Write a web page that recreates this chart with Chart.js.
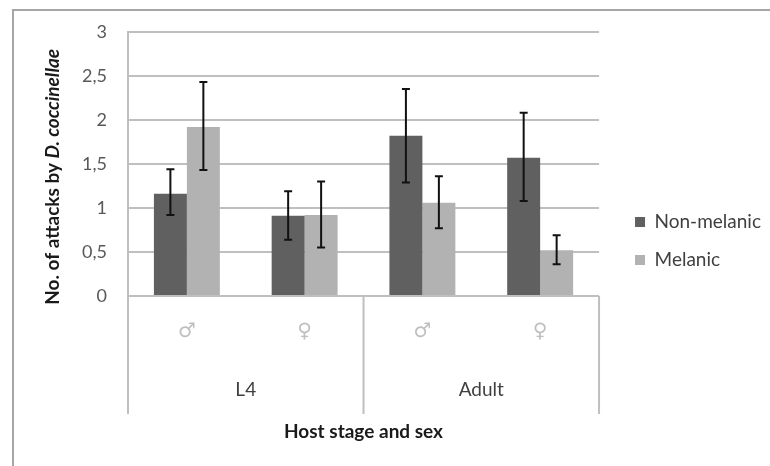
<!DOCTYPE html>
<html>
<head>
<meta charset="utf-8">
<script src="https://cdn.jsdelivr.net/npm/chart.js@4.4.0/dist/chart.umd.min.js"></script>
<style>
  html, body { margin: 0; padding: 0; background: #fff; }
  #wrap { width: 770px; height: 466px; }
</style>
</head>
<body>
<div id="wrap"><canvas id="myChart" width="770" height="466"></canvas></div>
<script>
// Catégories : sexe (niveau 1) et stade (niveau 2)
var sexLabels = ['♂', '♀', '♂', '♀'];
var stageLabels = ['L4', 'Adult'];

// Moyennes + barres d'erreur (bas / haut)
var nonMelanic = [1.16, 0.91, 1.82, 1.57];
var nonMelanicLow = [0.92, 0.64, 1.29, 1.08];
var nonMelanicHigh = [1.44, 1.19, 2.35, 2.08];

var melanic = [1.92, 0.92, 1.06, 0.52];
var melanicLow = [1.43, 0.55, 0.77, 0.36];
var melanicHigh = [2.43, 1.30, 1.36, 0.69];

var yMin = 0, yMax = 3, yStep = 0.5;

var FONT = 'Lato, "Open Sans", sans-serif';
var LINE = '#bfbfbf';

// cadre extérieur, titre Y en deux styles, séparateurs de l'axe X
var framePlugin = {
  id: 'frame',
  beforeDraw: function (chart) {
    var c = chart.ctx;
    c.save();
    c.fillStyle = '#fff';
    c.fillRect(0, 0, chart.width, chart.height);
    c.strokeStyle = '#a6a6a6';
    c.lineWidth = 2;
    c.beginPath();
    c.moveTo(13, chart.height);
    c.lineTo(13, 10);
    c.lineTo(chart.width, 10);
    c.stroke();
    c.restore();
  },
  afterDraw: function (chart) {
    var c = chart.ctx;
    var a = chart.chartArea;
    var p1 = 'No. of attacks by ';
    var p2 = 'D. coccinellae';
    var f1 = 'bold 19px ' + FONT;
    var f2 = 'italic bold 19px ' + FONT;
    c.save();
    c.font = f1; var w1 = c.measureText(p1).width;
    c.font = f2; var w2 = c.measureText(p2).width;
    c.translate(53, (a.top + a.bottom) / 2 + 13);
    c.rotate(-Math.PI / 2);
    c.fillStyle = '#1a1a1a';
    c.textBaseline = 'middle';
    c.textAlign = 'left';
    var x0 = -(w1 + w2) / 2;
    c.font = f1; c.fillText(p1, x0, 0);
    c.font = f2; c.fillText(p2, x0 + w1, 0);
    c.restore();

    var xs = chart.scales.x;
    var mid = (xs.getPixelForValue(1) + xs.getPixelForValue(2)) / 2;
    c.save();
    c.strokeStyle = LINE;
    c.lineWidth = 2;
    [xs.left, mid, xs.right].forEach(function (px) {
      c.beginPath();
      c.moveTo(px, a.bottom);
      c.lineTo(px, a.bottom + 118);
      c.stroke();
    });
    c.restore();
  }
};

// barres d'erreur
var errorBars = {
  id: 'errorBars',
  afterDatasetsDraw: function (chart) {
    var c = chart.ctx;
    var ys = chart.scales.y;
    c.save();
    c.strokeStyle = '#111';
    c.lineWidth = 2;
    chart.data.datasets.forEach(function (ds, i) {
      var meta = chart.getDatasetMeta(i);
      meta.data.forEach(function (bar, j) {
        var yl = ys.getPixelForValue(ds.errLow[j]);
        var yh = ys.getPixelForValue(ds.errHigh[j]);
        c.beginPath();
        c.moveTo(bar.x, yl); c.lineTo(bar.x, yh);
        c.moveTo(bar.x - 4, yl); c.lineTo(bar.x + 4, yl);
        c.moveTo(bar.x - 4, yh); c.lineTo(bar.x + 4, yh);
        c.stroke();
      });
    });
    c.restore();
  }
};

var ctx = document.getElementById('myChart').getContext('2d');

var config = {
  type: 'bar',
  data: {
    labels: sexLabels,
    datasets: [{
      label: 'Non-melanic',
      data: nonMelanic,
      errLow: nonMelanicLow,
      errHigh: nonMelanicHigh,
      backgroundColor: '#606060',
      borderWidth: 0
    }, {
      label: 'Melanic',
      data: melanic,
      errLow: melanicLow,
      errHigh: melanicHigh,
      backgroundColor: '#b2b2b2',
      borderWidth: 0
    }]
  },
  options: {
    responsive: false,
    animation: false,
    layout: { padding: { top: 30, right: -1, bottom: 14, left: 0 } },
    datasets: {
      bar: { categoryPercentage: 0.56, barPercentage: 1 }
    },
    plugins: {
      legend: {
        position: 'right',
        maxWidth: 300,
        labels: {
          boxWidth: 10,
          boxHeight: 10,
          padding: 19,
          color: '#404040',
          font: { family: FONT, size: 19 }
        }
      },
      tooltip: { enabled: false }
    },
    scales: {
      x: {
        position: 'bottom',
        grid: { display: false, drawTicks: false },
        border: { display: false },
        ticks: {
          color: '#bfbfbf',
          padding: 24,
          font: { family: '"DejaVu Sans", sans-serif', size: 20 }
        },
        afterFit: function (s) { s.height = 60; }
      },
      x2: {
        type: 'category',
        labels: stageLabels,
        offset: true,
        position: 'bottom',
        grid: { display: false, drawTicks: false },
        border: { display: false },
        ticks: {
          color: '#404040',
          padding: 22,
          font: { family: FONT, size: 19 }
        },
        title: {
          display: true,
          text: 'Host stage and sex',
          color: '#1a1a1a',
          padding: { top: 0, bottom: 9 },
          font: { family: FONT, size: 19, weight: 'bold' }
        },
        afterFit: function (s) { s.height = 96; }
      },
      y: {
        min: yMin,
        max: yMax,
        ticks: {
          stepSize: yStep,
          padding: 21,
          color: '#595959',
          font: { family: FONT, size: 18 },
          callback: function (v) { return String(v).replace('.', ','); }
        },
        grid: { color: LINE, lineWidth: 2, drawTicks: false },
        border: { display: true, color: LINE, width: 2 },
        afterFit: function (s) { s.width = 128; }
      },
      gap: {
        type: 'linear',
        position: 'right',
        display: true,
        grid: { display: false, drawTicks: false },
        border: { display: false },
        ticks: { display: false },
        afterFit: function (s) { s.width = 17; }
      }
    }
  },
  plugins: [framePlugin, errorBars]
};

var myChart = new Chart(ctx, config);

// relancer la mise en page une fois les polices prêtes
if (document.fonts) {
  Promise.all([
    document.fonts.load('19px Lato'),
    document.fonts.load('bold 19px Lato'),
    document.fonts.load('italic bold 19px Lato')
  ]).then(function () { myChart.update(); });
}
</script>
</body>
</html>
